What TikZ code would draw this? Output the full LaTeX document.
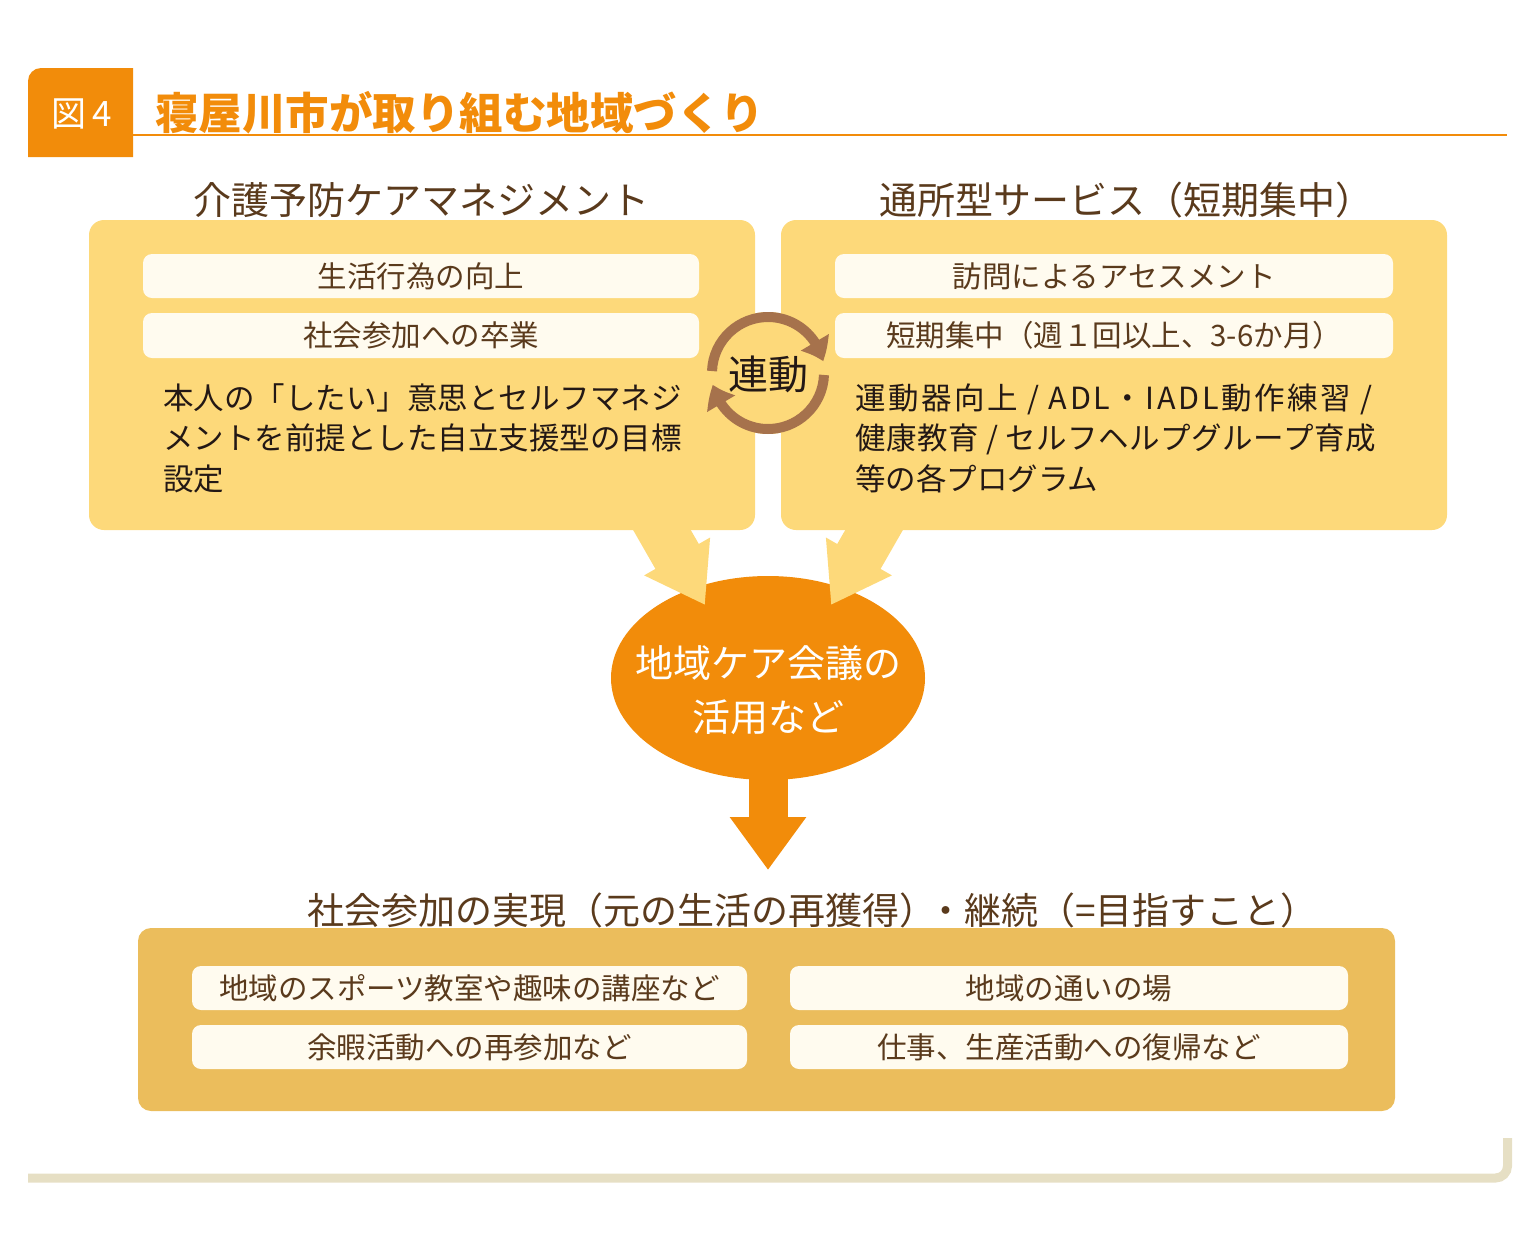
\documentclass[tikz,border=0pt]{standalone}
\usepackage{fontspec}
\setmainfont{Noto Sans CJK JP}
\newfontfamily\jplsa[LetterSpace=8.5]{Noto Sans CJK JP}
\newfontfamily\jplsb[LetterSpace=1.8]{Noto Sans CJK JP}
\usetikzlibrary{arrows.meta,shapes.geometric,bending}
\definecolor{orgH}{HTML}{F28C0A}
\definecolor{boxY}{HTML}{FDD97A}
\definecolor{cream}{HTML}{FFFBEF}
\definecolor{gold}{HTML}{EBBD5C}
\definecolor{arrB}{HTML}{A6724C}
\definecolor{txtB}{HTML}{5A3A1C}
\definecolor{txtK}{HTML}{231815}
\definecolor{lineB}{HTML}{E6DFC4}
\tikzset{
  ybox/.style={fill=boxY, rounded corners=15pt, minimum width=666pt, minimum height=310pt, inner sep=0pt},
  gbox/.style={fill=gold, rounded corners=13pt, minimum width=1257pt, minimum height=183pt, inner sep=0pt},
  wbox/.style={fill=cream, rounded corners=9pt, minimum height=44pt, inner sep=0pt, text=txtB, font=\fontsize{29.5}{31}\selectfont},
  headtxt/.style={text=txtB, font=\fontsize{38}{40}\selectfont, inner sep=0pt},
  bodytxt/.style={text=txtK, font=\fontsize{30.5}{32}\selectfont, inner sep=0pt, anchor=base west},
  yarrow/.style={draw=boxY, line width=50pt, -{Triangle[length=56pt,width=72pt]}},
  darrow/.style={draw=orgH, line width=39pt, -{Triangle[length=53pt,width=73pt]}},
  cycarrow/.style={draw=arrB, line width=10pt, -{Triangle[length=21pt,width=31pt,bend]}},
}
\begin{document}
\begin{tikzpicture}[x=1pt,y=-1pt]
\useasboundingbox (0,0) rectangle (1536,1240);

% header
\fill[orgH] (28,157) -- (28,81) arc[start angle=180, end angle=90, radius=13pt] -- (133,68) -- (133,157) -- cycle;
\node[text=white, font=\fontsize{35}{37}\selectfont, inner sep=0pt] (fignum) at (82,114) {図\kern6pt 4};
\node[text=orgH, font=\fontsize{43.5}{46}\selectfont\bfseries, inner sep=0pt, anchor=west] (title) at (155,113) {寝屋川市が取り組む地域づくり};
\draw[orgH, line width=1.8pt] (133,135) -- (1507,135);

% headings
\node[headtxt] (lhead) at (421.5,200) {介護予防ケアマネジメント};
\node[headtxt, anchor=west] (rhead) at (879,200) {通所型サービス（短期集中）};

% ellipse
\node[ellipse, fill=orgH, minimum width=314pt, minimum height=204pt, inner sep=0pt] (ell) at (768,678) {};
\node[text=white, font=\fontsize{38}{54}\selectfont, align=center, inner sep=0pt] (elltxt) at (768,690) {地域ケア会議の\\活用など};

% yellow arrows into ellipse
\coordinate (la0) at (647,504);
\coordinate (la1) at (705,605);
\coordinate (ra0) at (889,504);
\coordinate (ra1) at (831,605);
\draw[yarrow] (la0) -- (la1);
\draw[yarrow] (ra0) -- (ra1);

% yellow boxes
\node[ybox] (lbox) at (422,375) {};
\node[ybox] (rbox) at (1114,375) {};

\node[wbox, minimum width=556pt] (l1) at (421,276) {生活行為の向上};
\node[wbox, minimum width=556pt, minimum height=45pt] (l2) at (421,335.5) {社会参加への卒業};
\node[wbox, minimum width=558pt] (r1) at (1114,276) {訪問によるアセスメント};
\node[wbox, minimum width=558pt, minimum height=45pt] (r2) at (1114,335.5) {短期集中（週１回以上、3-6か月）};

\node[bodytxt] (lt1) at (163,409) {本人の「したい」意思とセルフマネジ};
\node[bodytxt] (lt2) at (163,449.5) {メントを前提とした自立支援型の目標};
\node[bodytxt] (lt3) at (163,490) {設定};
\node[bodytxt, font=\fontsize{30.5}{32}\selectfont\jplsa] (rt1) at (855,409) {運動器向上 / ADL・IADL動作練習 /};
\node[bodytxt, font=\fontsize{30.5}{32}\selectfont\jplsb] (rt2) at (855,449.5) {健康教育 / セルフヘルプグループ育成};
\node[bodytxt] (rt3) at (855,490) {等の各プログラム};

% linkage cycle
\node[circle, fill=boxY, minimum size=122pt, inner sep=0pt] (rdisk) at (768,373) {};
\node[text=txtK, font=\fontsize{40}{42}\selectfont, inner sep=0pt] (ren) at (768,374) {連動};
\draw[cycarrow] ([shift={(178:56pt)}]rdisk.center) arc[start angle=178, end angle=12, radius=56pt];
\draw[cycarrow] ([shift={(-2:56pt)}]rdisk.center) arc[start angle=-2, end angle=-168, radius=56pt];

% down arrow
\coordinate (dtip) at (768,870);
\draw[darrow] ([yshift=10pt]ell.south) -- (dtip);

% bottom section
\node[headtxt, font=\fontsize{37}{39}\selectfont, anchor=west] (bhead) at (307,910) {社会参加の実現（元の生活の再獲得）\kern-9pt・継続（=目指すこと）};
\node[gbox] (bbox) at (766.5,1019.5) {};
\node[wbox, minimum width=555pt] (b1) at (469.5,988) {地域のスポーツ教室や趣味の講座など};
\node[wbox, minimum width=555pt] (b2) at (469.5,1047) {余暇活動への再参加など};
\node[wbox, minimum width=558pt] (b3) at (1069,988) {地域の通いの場};
\node[wbox, minimum width=558pt] (b4) at (1069,1047) {仕事、生産活動への復帰など};

% footer line
\draw[lineB, line width=9pt, rounded corners=12pt] (28,1178) -- (1507.5,1178) -- (1507.5,1138);
\end{tikzpicture}
\end{document}
